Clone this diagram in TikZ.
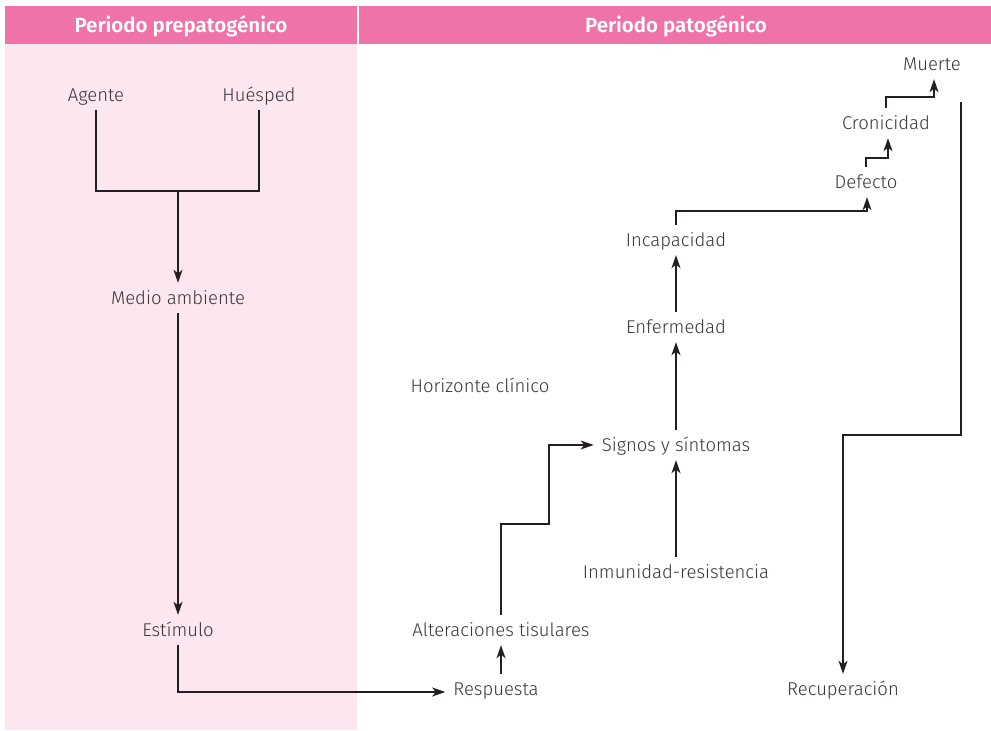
\documentclass[tikz,border=0pt]{standalone}
\usepackage{fontspec}
\setmainfont{Fira Sans Light}[BoldFont={Fira Sans SemiBold}]
\usetikzlibrary{arrows.meta}
\definecolor{hdrpink}{HTML}{EF72A9}
\definecolor{panelpink}{HTML}{FCE7F1}
\definecolor{ink}{HTML}{3A3436}
\definecolor{lineink}{HTML}{231F20}
\tikzset{
  lbl/.style={font=\fontsize{18.5}{22}\selectfont, text=ink, inner xsep=8pt, inner ysep=5.5pt,
              text height=16pt, text depth=3pt},
  hdr/.style={font=\bfseries\fontsize{20.5}{24}\selectfont, text=white},
  conn/.style={draw=lineink, line width=1.3pt},
  arr/.style={conn, -{Stealth[length=13pt,width=9pt,inset=3.5pt]}}
}
\begin{document}
\begin{tikzpicture}[x=1pt,y=-1pt]
\useasboundingbox (0,0) rectangle (991,731);
% bands
\fill[hdrpink] (5,6) rectangle (357,44);
\fill[hdrpink] (359,6) rectangle (991,44);
\fill[panelpink] (5,44) rectangle (357,730);
\node[hdr] (h1) at (181,26) {Periodo prepatogénico};
\node[hdr] (h2) at (676,26) {Periodo patogénico};
% prepathogenic nodes
\node[lbl] (agente) at (96,95) {Agente};
\node[lbl] (huesped) at (259,95) {Huésped};
\node[lbl] (medio) at (178,298) {Medio ambiente};
\node[lbl] (estimulo) at (178,630) {Estímulo};
% pathogenic nodes
\node[lbl] (respuesta) at (496,689) {Respuesta};
\node[lbl] (alter) at (501,630) {Alteraciones tisulares};
\node[lbl] (inmun) at (676,572) {Inmunidad-resistencia};
\node[lbl] (signos) at (676,445) {Signos y síntomas};
\node[lbl] (horiz) at (480,386) {Horizonte clínico};
\node[lbl] (enferm) at (676,327) {Enfermedad};
\node[lbl] (incap) at (676,240) {Incapacidad};
\node[lbl] (defecto) at (866,182) {Defecto};
\node[lbl] (cron) at (886,123) {Cronicidad};
\node[lbl] (muerte) at (932,64) {Muerte};
\node[lbl] (recup) at (843,689) {Recuperación};
% bend points
\coordinate (j1) at (178,191);
\coordinate (s1) at (549,524);
\coordinate (d1) at (867,211);
\coordinate (k1) at (888,158);
\coordinate (k2) at (934,97);
\coordinate (r0) at (961,102);
\coordinate (r2) at (843,435);
% connectors
\draw[conn] (agente.south) |- (j1) -| (huesped.south);
\draw[arr] (j1) -- (medio.north);
\draw[arr] (medio.south) -- (estimulo.north);
\draw[arr] (estimulo.south) |- ([yshift=-3pt]respuesta.west);
\draw[arr] (alter.south |- respuesta.north) -- (alter.south);
\draw[arr] (alter.north) |- (s1) |- (signos.west);
\draw[arr] (inmun.north) -- (signos.south);
\draw[arr] (signos.north) -- (enferm.south);
\draw[arr] (enferm.north) -- (incap.south);
\draw[arr] (incap.north) |- (d1) -- (d1 |- defecto.south);
\draw[arr] (defecto.north) |- (k1) -- (k1 |- cron.south);
\draw[arr] (cron.north) |- (k2) -- (k2 |- muerte.south);
\draw[arr] (r0) |- (r2) -- (recup.north);
\end{tikzpicture}
\end{document}
